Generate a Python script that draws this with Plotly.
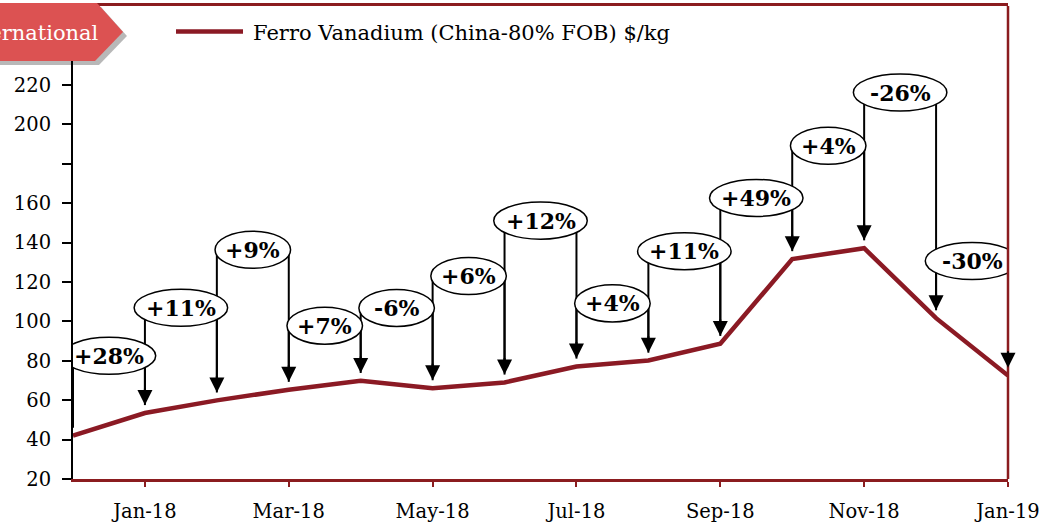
import plotly.graph_objects as go

# monthly price, Ferro Vanadium (China-80% FOB), $/kg
months = ["Dec-17", "Jan-18", "Feb-18", "Mar-18", "Apr-18", "May-18", "Jun-18",
          "Jul-18", "Aug-18", "Sep-18", "Oct-18", "Nov-18", "Dec-18", "Jan-19"]
price = [42, 53.5, 59.9, 65.3, 69.8, 66.1, 69.0, 77.1, 80.1, 88.6, 131.6, 137.1, 101.6, 72.5]
changes = ["+28%", "+11%", "+9%", "+7%", "-6%", "+6%", "+12%", "+4%", "+11%", "+49%", "+4%", "-26%", "-30%"]
tick_months = ["Jan-18", "Mar-18", "May-18", "Jul-18", "Sep-18", "Nov-18", "Jan-19"]
y_ticks = [20, 40, 60, 80, 100, 120, 140, 160, 180, 200, 220]
y_labels = ["20", "40", "60", "80", "100", "120", "140", "160", "", "200", "220"]

# how far each callout bubble sits above the higher of its two months
callout_lift = [29, 47, 71, 28, 37, 54, 74, 29, 47, 31, 52, 79, 29]

LINE = "#8b1a24"
FRAME = "#8b1c1f"
TAG = "#dc5252"
FONT = "DejaVu Serif"

W, H = 1041, 523
L, R, T, B = 73, 33, 6, 44
PW, PH = W - L - R, H - T - B


def px(x):
    return (x - L) / PW


def py(y):
    return (H - B - y) / PH


fig = go.Figure()
fig.add_trace(go.Scatter(
    x=list(range(len(months))), y=price,
    mode="lines",
    line=dict(color=LINE, width=4.5),
    hoverinfo="skip",
    showlegend=False,
))

shapes = []
annotations = []
tip_gap = 4
bubble_h = 18.8

# connector lines first, bubbles on top of them
bubbles = []
for k, label in enumerate(changes):
    cy = max(price[k], price[k + 1]) + callout_lift[k]
    w = 1.3 if len(label) > 3 else 1.05
    bubbles.append((k + 0.5, cy, w, label))
    shapes.append(dict(type="line", xref="x", yref="y", x0=k, x1=k,
                       y0=cy, y1=price[k] + tip_gap,
                       line=dict(color="black", width=2)))
    shapes.append(dict(type="line", xref="x", yref="y", x0=k + 1, x1=k + 1,
                       y0=cy, y1=price[k + 1] + tip_gap + 3,
                       line=dict(color="black", width=2)))
    annotations.append(dict(x=k + 1, y=price[k + 1] + tip_gap, xref="x", yref="y",
                            text="", showarrow=True, ax=0, ay=-18,
                            arrowhead=2, arrowsize=1.5, arrowwidth=2, arrowcolor="black"))

for cx, cy, w, label in bubbles:
    shapes.append(dict(type="circle", xref="x", yref="y",
                       x0=cx - w / 2, x1=cx + w / 2,
                       y0=cy - bubble_h / 2, y1=cy + bubble_h / 2,
                       fillcolor="white", line=dict(color="black", width=1.5)))
    annotations.append(dict(x=cx, y=cy, xref="x", yref="y", text=label, showarrow=False,
                            font=dict(family=FONT, size=22, color="black", weight="bold")))

# right frame edge
shapes.append(dict(type="line", xref="paper", yref="paper", x0=1, x1=1, y0=0, y1=1,
                   line=dict(color=FRAME, width=2.5)))

# legend sample drawn by hand (longer swatch than plotly's)
shapes.append(dict(type="line", xref="paper", yref="paper",
                   x0=px(176), x1=px(243), y0=py(31.5), y1=py(31.5),
                   line=dict(color=LINE, width=4.5)))
annotations.append(dict(x=px(251), y=py(33), xref="paper", yref="paper",
                        xanchor="left", yanchor="middle", showarrow=False,
                        text="Ferro Vanadium (China-80% FOB) $/kg",
                        font=dict(family=FONT, size=21, color="black")))

# red tag at top left, cut off by the page edge
tag = [(0, 3), (97, 3), (123, 32), (95, 61), (0, 61)]


def tag_path(dx, dy):
    pts = [f"{px(x + dx):.5f},{py(y + dy):.5f}" for x, y in [(-20, 3)] + tag[1:4] + [(-20, 61)]]
    return "M" + " L".join(pts) + " Z"


shapes.append(dict(type="path", xref="paper", yref="paper", path=tag_path(4, 4),
                   fillcolor="rgba(0,0,0,0.28)", line=dict(width=0)))
shapes.append(dict(type="path", xref="paper", yref="paper", path=tag_path(0, 0),
                   fillcolor=TAG, line=dict(width=0)))
annotations.append(dict(x=px(101), y=py(33), xref="paper", yref="paper",
                        xanchor="right", yanchor="middle", showarrow=False,
                        text="International",
                        font=dict(family=FONT, size=21, color="white")))

fig.update_layout(
    width=W, height=H,
    paper_bgcolor="white", plot_bgcolor="white",
    margin=dict(l=L, r=R, t=T, b=B, autoexpand=False),
    showlegend=False,
    font=dict(family=FONT, size=20, color="black"),
    shapes=shapes,
    annotations=annotations,
    xaxis=dict(
        range=[0, len(months) - 1],
        tickmode="array",
        tickvals=[months.index(m) for m in tick_months],
        ticktext=tick_months,
        showgrid=False, zeroline=False,
        showline=True, linecolor=FRAME, linewidth=2.5, mirror=True,
        ticks="outside", ticklen=5, tickwidth=2, tickcolor=FRAME,
        tickfont=dict(family=FONT, size=19.5, color="black"),
        ticklabelstandoff=8,
    ),
    yaxis=dict(
        range=[20, 260],
        tickmode="array",
        tickvals=y_ticks,
        ticktext=y_labels,
        showgrid=False, zeroline=False,
        showline=True, linecolor="black", linewidth=2,
        ticks="outside", ticklen=9, tickwidth=2, tickcolor="black",
        tickfont=dict(family=FONT, size=19.5, color="black"),
        ticklabelstandoff=7,
    ),
)

fig.write_html("out.html", config={"displayModeBar": False},
               post_script="document.body.style.margin='0px';")
